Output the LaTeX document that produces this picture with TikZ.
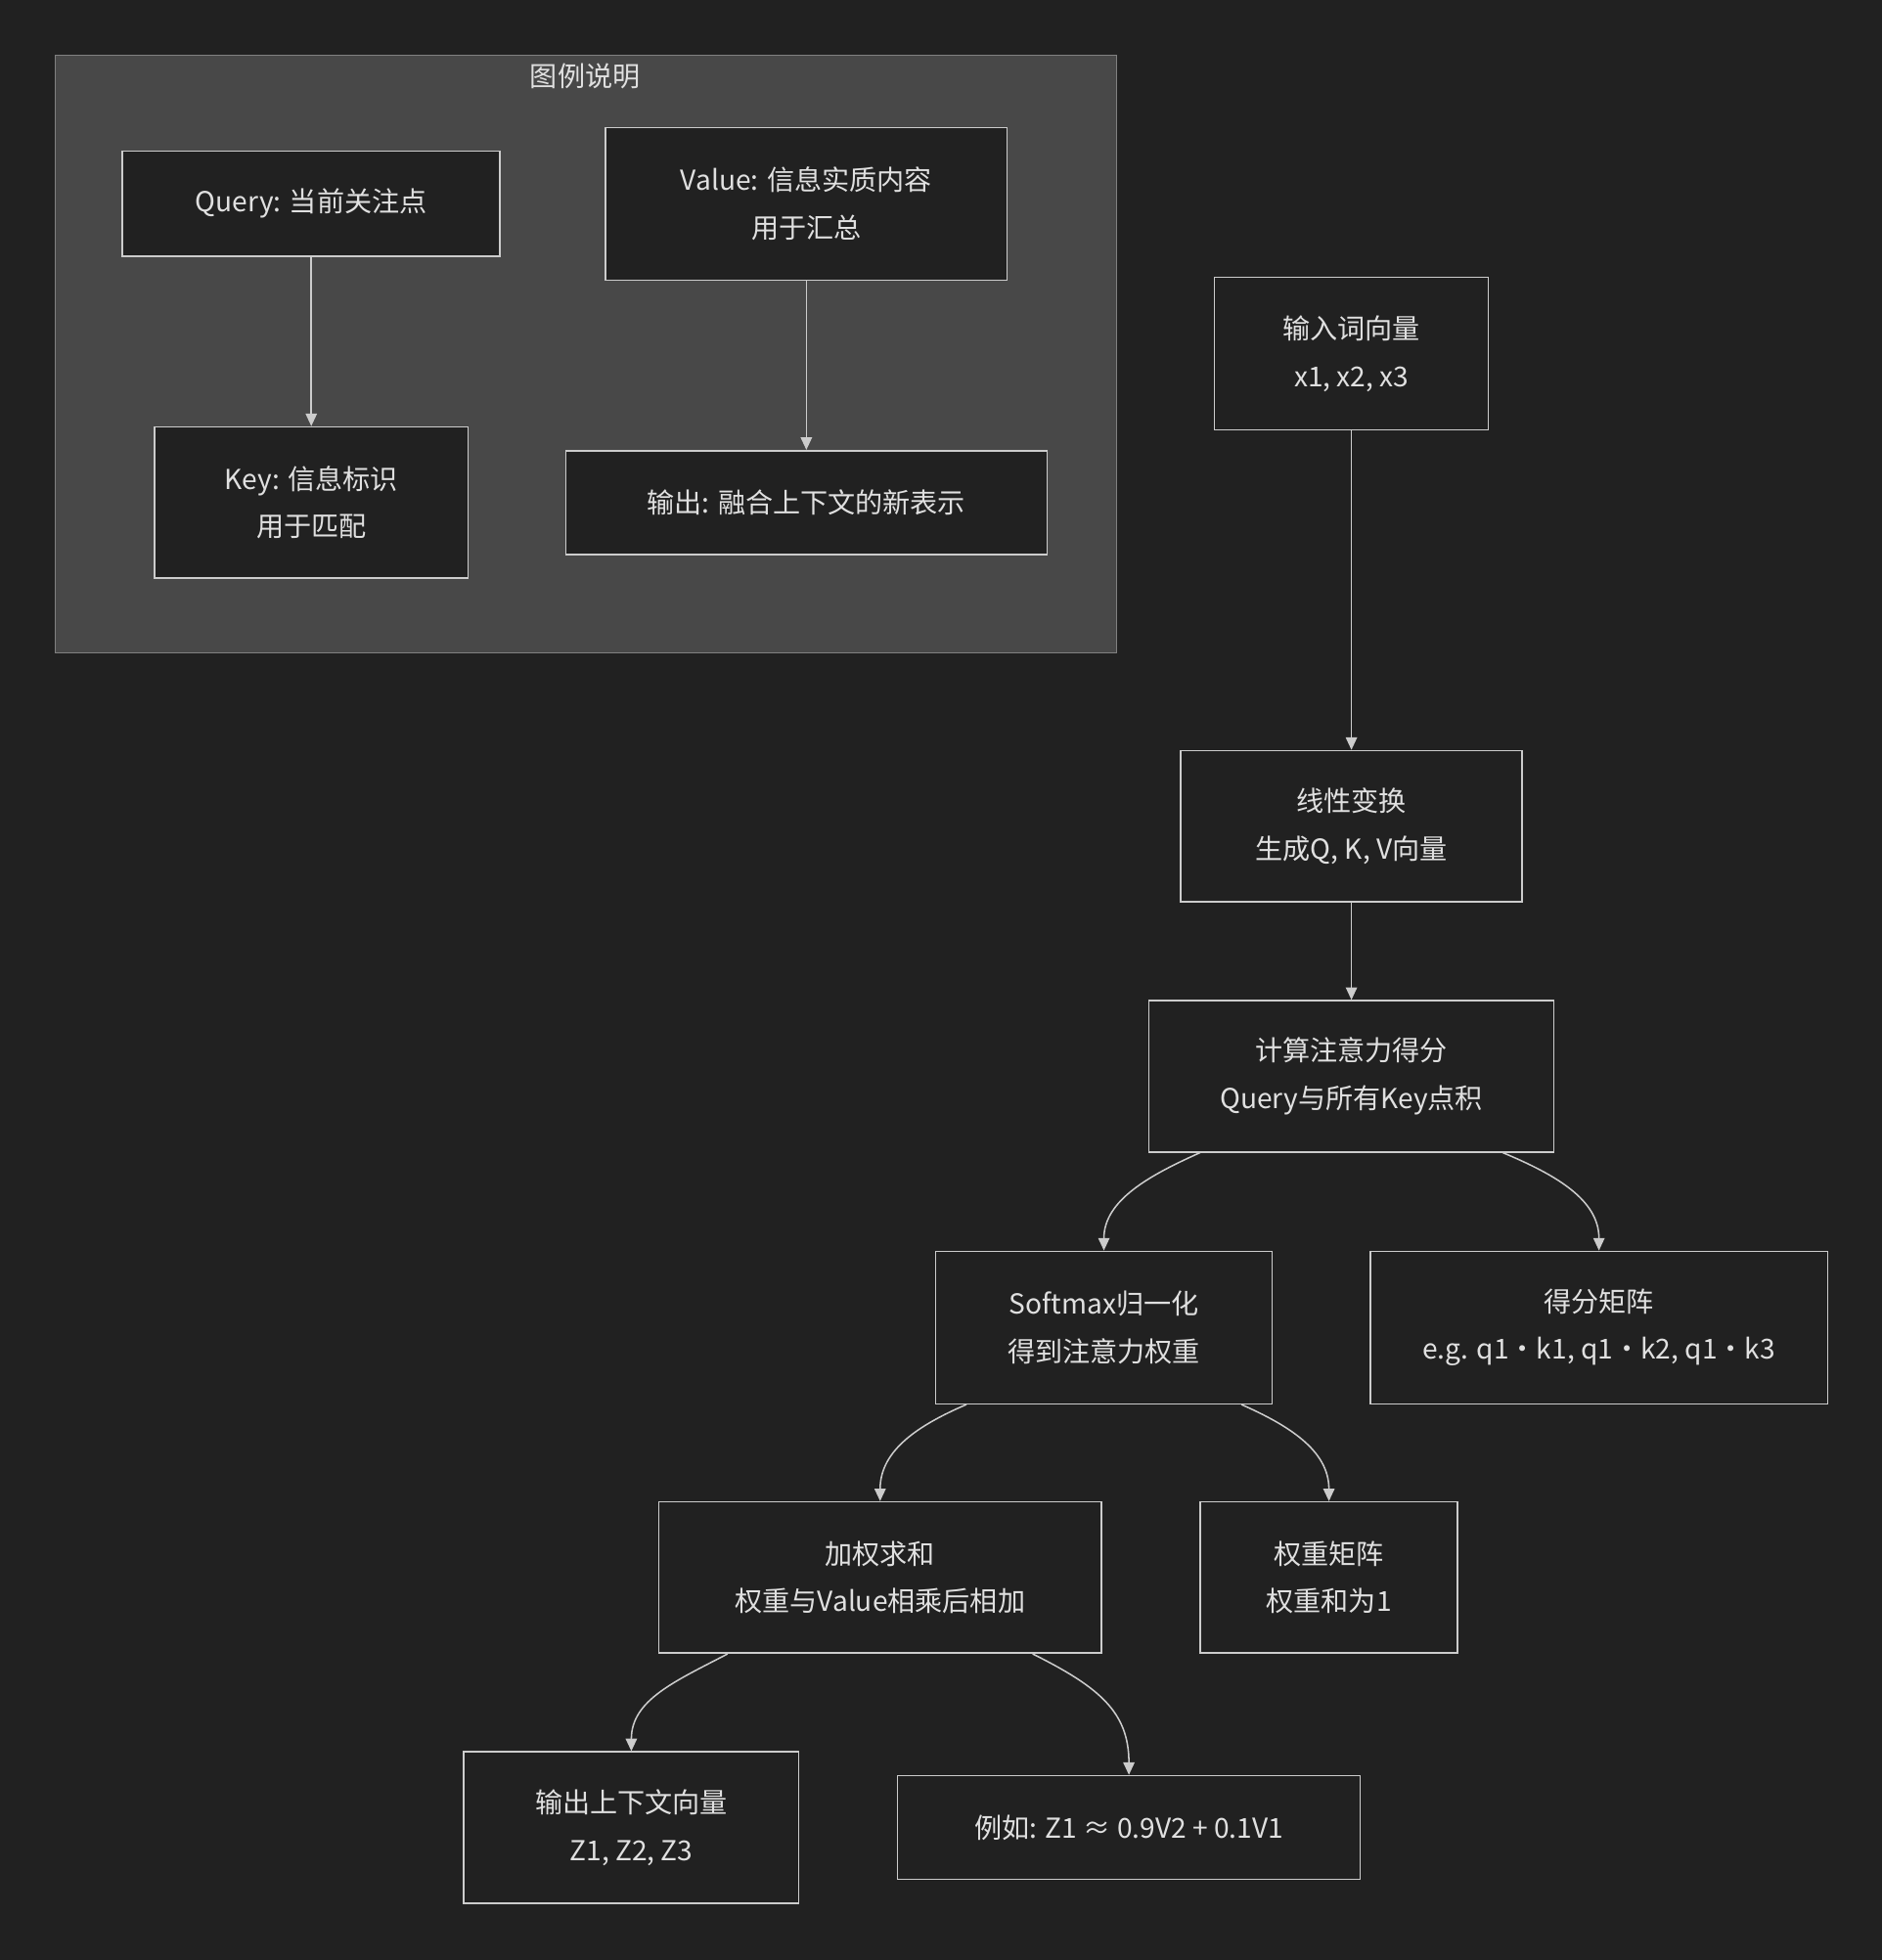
\documentclass[tikz,border=0pt]{standalone}
\usepackage{fontspec}
\setmainfont{Noto Sans CJK SC}
\usetikzlibrary{arrows.meta,calc}
\definecolor{bg}{HTML}{212121}
\definecolor{lg}{HTML}{484848}
\definecolor{ln}{HTML}{CCCCCC}
\definecolor{tx}{HTML}{E0E0E0}
\begin{document}
\begin{tikzpicture}[x=1pt,y=-1pt,
  box/.style={draw=ln,line width=1.2pt,fill=bg,text=tx,align=center,font=\fontsize{22}{38}\selectfont,inner sep=0pt},
  arr/.style={draw=ln,line width=1.2pt,-{Triangle[length=10pt,width=9pt]}}]
\fill[bg] (0,0) rectangle (1505,1568);
\useasboundingbox (0,0) rectangle (1505,1568);
\draw[fill=lg,draw=gray,line width=1pt] (44,44) rectangle (893,522);
\node[text=tx,font=\fontsize{22}{26}\selectfont] (lt) at (468,61) {图例说明};
\node[box,minimum width=302,minimum height=84] (q) at (249,163) {Query: 当前关注点};
\node[box,minimum width=251,minimum height=121] (k) at (249,402) {Key: 信息标识\\用于匹配};
\node[box,minimum width=321,minimum height=122] (v) at (645,163) {Value: 信息实质内容\\用于汇总};
\node[box,minimum width=385,minimum height=83] (o) at (645,402) {输出: 融合上下文的新表示};
\node[box,minimum width=219,minimum height=122] (in) at (1081,283) {输入词向量\\x1, x2, x3};
\node[box,minimum width=273,minimum height=121] (lin) at (1081,661) {线性变换\\生成Q, K, V向量};
\node[box,minimum width=324,minimum height=121] (sc) at (1081,861) {计算注意力得分\\Query与所有Key点积};
\node[box,minimum width=269,minimum height=122] (sm) at (883,1062) {Softmax归一化\\得到注意力权重};
\node[box,minimum width=366,minimum height=122] (sm2) at (1279,1062) {得分矩阵\\e.g. q1·k1, q1·k2, q1·k3};
\node[box,minimum width=354,minimum height=121] (ws) at (704,1262) {加权求和\\权重与Value相乘后相加};
\node[box,minimum width=206,minimum height=121] (wm) at (1063,1262) {权重矩阵\\权重和为1};
\node[box,minimum width=268,minimum height=121] (out) at (505,1462) {输出上下文向量\\Z1, Z2, Z3};
\node[box,minimum width=370,minimum height=83] (ex) at (903,1462) {例如: Z1 ≈ 0.9\textit{V2} + \textit{0.1}V1};
\draw[arr] (q) -- (k);
\draw[arr] (v) -- (o);
\draw[arr] (in) -- (lin);
\draw[arr] (lin) -- (sc);
\draw[arr] ($(sc.south)+(-121,0)$) .. controls (920,940) and (883,960) .. (sm.north);
\draw[arr] ($(sc.south)+(121,0)$) .. controls (1245,940) and (1279,960) .. (sm2.north);
\draw[arr] ($(sm.south)+(-110,0)$) .. controls (735,1140) and (704,1160) .. (ws.north);
\draw[arr] ($(sm.south)+(110,0)$) .. controls (1030,1140) and (1063,1160) .. (wm.north);
\draw[arr] ($(ws.south)+(-122,0)$) .. controls (540,1345) and (505,1360) .. (out.north);
\draw[arr] ($(ws.south)+(122,0)$) .. controls (880,1350) and (903,1370) .. (ex.north);
\end{tikzpicture}
\end{document}
